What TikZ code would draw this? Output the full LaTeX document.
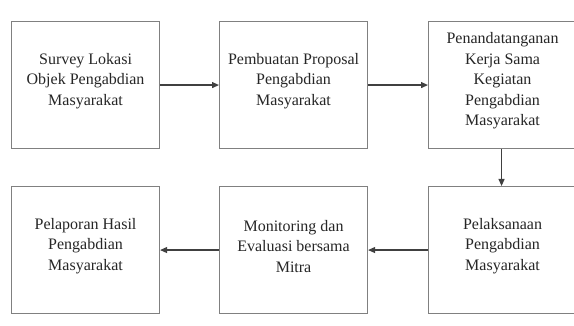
\documentclass[tikz,border=0pt]{standalone}
\usepackage{fontspec}
\setmainfont{Liberation Serif}
\usetikzlibrary{arrows.meta}
\begin{document}
\begin{tikzpicture}[x=1pt,y=-1pt,
  box/.style={draw=black!50,line width=1.1pt,minimum width=148pt,minimum height=127pt,inner sep=0pt,anchor=north west},
  lbl/.style={align=center,text=black!85,font=\fontsize{16}{20.5}\selectfont},
  conn/.style={draw=black!75,line width=1.1pt,-{Triangle[length=7pt,width=6pt]}}]
\useasboundingbox (0,0) rectangle (574,326);
\clip (0,0) rectangle (574,326);
\fill[white] (0,0) rectangle (574,326);
\node[box] (b1) at (11,21) {};
\node[box] (b2) at (219,21) {};
\node[box] (b3) at (428,21) {};
\node[box] (b4) at (11,186) {};
\node[box] (b5) at (219,186) {};
\node[box] (b6) at (428,186) {};
\node[lbl] (t1) at ([yshift=4pt]b1.center) {Survey Lokasi\\Objek Pengabdian\\Masyarakat};
\node[lbl] (t2) at ([yshift=4pt]b2.center) {Pembuatan Proposal\\Pengabdian\\Masyarakat};
\node[lbl] (t3) at ([yshift=4pt]b3.center) {Penandatanganan\\Kerja Sama\\Kegiatan\\Pengabdian\\Masyarakat};
\node[lbl] (t4) at ([yshift=4pt]b4.center) {Pelaporan Hasil\\Pengabdian\\Masyarakat};
\node[lbl] (t5) at ([yshift=4pt]b5.center) {Monitoring dan\\Evaluasi bersama\\Mitra};
\node[lbl] (t6) at ([yshift=4pt]b6.center) {Pelaksanaan\\Pengabdian\\Masyarakat};
\draw[conn] (b1.east) -- (b2.west);
\draw[conn] (b2.east) -- (b3.west);
\draw[conn] ([xshift=-1pt]b3.south) -- ([xshift=-1pt]b6.north);
\draw[conn] (b6.west) -- (b5.east);
\draw[conn] (b5.west) -- (b4.east);
\end{tikzpicture}
\end{document}
